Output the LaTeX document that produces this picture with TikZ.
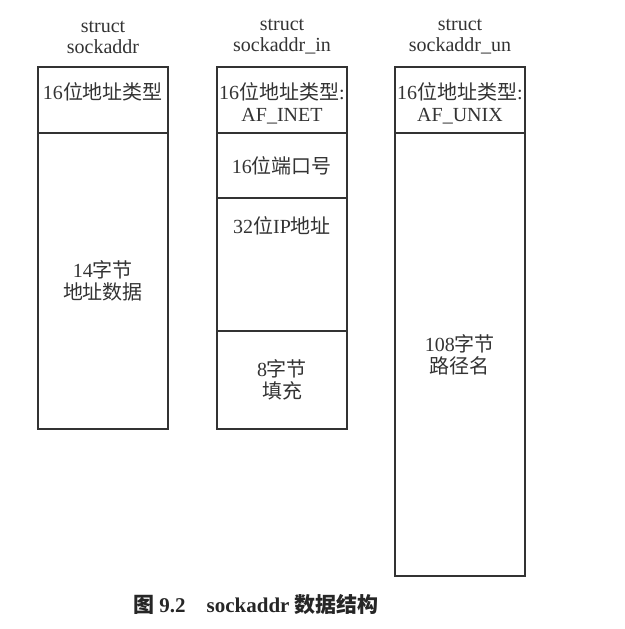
\documentclass[tikz,border=0pt]{standalone}
\usepackage{fontspec}
\setmainfont{Liberation Serif}
\newfontfamily\zhfont{Noto Sans CJK SC}
\newcommand\zh[1]{{\zhfont #1}}
\usetikzlibrary{positioning}

\begin{document}
\begin{tikzpicture}[x=1pt,y=1pt,
  field/.style={draw=black!80, line width=0.7pt, minimum width=65pt, inner sep=0pt, outer sep=0pt},
  txt/.style={inner sep=0pt, align=center, text=black!80, font=\fontsize{10}{11}\selectfont},
  title/.style={txt, font=\fontsize{10}{10.5}\selectfont},
  caption/.style={txt, text=black!85, font=\fontsize{10.5}{12}\selectfont\bfseries}]
  \useasboundingbox (0,0) rectangle (312.5,-314.5);
  \node[field, minimum height=33pt, anchor=north west] (sa1) at (19,-33.5) {};
  \node[field, minimum height=148pt, below=0pt of sa1] (sa2) {};
  \node[field, minimum height=33pt, anchor=north west] (in1) at (108.5,-33.5) {};
  \node[field, minimum height=32.5pt, below=0pt of in1] (in2) {};
  \node[field, minimum height=66.5pt, below=0pt of in2] (in3) {};
  \node[field, minimum height=49pt, below=0pt of in3] (in4) {};
  \node[field, minimum height=33pt, anchor=north west] (un1) at (197.5,-33.5) {};
  \node[field, minimum height=221.5pt, below=0pt of un1] (un2) {};
  \node[title, above=6.5pt of sa1] (satitle) {struct\\sockaddr};
  \node[title, above=6.5pt of in1] (intitle) {struct\\sockaddr\_in};
  \node[title, above=6.5pt of un1] (untitle) {struct\\sockaddr\_un};
  \node[txt, below=7.5pt of sa1.north] (satype) {16\zh{位地址类型}};
  \node[txt] (sadata) at (sa2) {14\zh{字节}\\\zh{地址数据}};
  \node[txt, below=7.5pt of in1.north] (intype) {16\zh{位地址类型}:\\AF\_INET};
  \node[txt] (inport) at (in2) {16\zh{位端口号}};
  \node[txt, below=9pt of in3.north] (inaddr) {32\zh{位}IP\zh{地址}};
  \node[txt] (inpad) at (in4) {8\zh{字节}\\\zh{填充}};
  \node[txt, below=7.5pt of un1.north] (untype) {16\zh{位地址类型}:\\AF\_UNIX};
  \node[txt] (unpath) at (un2) {108\zh{字节}\\\zh{路径名}};
  \node[caption] (cap) at (128,-302.5) {\zh{图} 9.2\quad sockaddr \zh{数据结构}};
\end{tikzpicture}
\end{document}
